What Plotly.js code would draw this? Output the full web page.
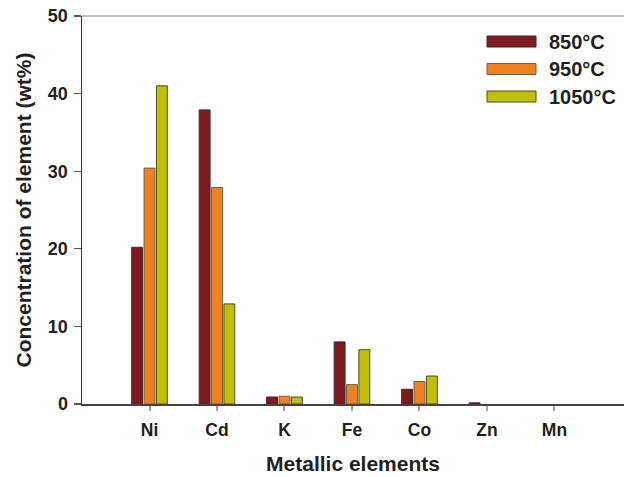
<!DOCTYPE html>
<html>
<head>
<meta charset="utf-8">
<script src="https://cdn.plot.ly/plotly-3.0.1.min.js"></script>
<style>html,body{margin:0;padding:0;background:#fff;}#chart{width:624px;height:477px;}</style>
</head>
<body>
<div id="chart"></div>
<script>
const categories = ["Ni", "Cd", "K", "Fe", "Co", "Zn", "Mn"];
const seriesNames = ["850°C", "950°C", "1050°C"];
const values850 = [20.2, 37.9, 0.9, 8.0, 1.9, 0.15, 0];
const values950 = [30.4, 27.9, 1.0, 2.5, 2.9, 0, 0];
const values1050 = [41.0, 12.9, 0.9, 7.0, 3.6, 0, 0];
const yTicks = [0, 10, 20, 30, 40, 50];

const fillColors = ["#7C1A1F", "#F0821E", "#C0C000"];
const lineColors = ["#3F2A2A", "#6E6158", "#4E4B2A"];
const FONT = "Liberation Sans, Arial, sans-serif";
const TXT = "#231F20";

const allValues = [values850, values950, values1050];
const traces = allValues.map((v, i) => ({
  type: "bar",
  x: categories,
  y: v,
  name: seriesNames[i],
  marker: {color: fillColors[i],
    line: {color: lineColors[i], width: v.map(d => d === 0 ? 0 : 1)}},
  hoverinfo: "x+y+name"
}));

// layout in pixels
const W = 624, H = 477, L = 82, R = 0, T = 16, B = 73;
const pw = W - L - R, ph = H - T - B;
const px = x => (x - L) / pw;
const py = y => 1 - (y - T) / ph;

const shapes = [
  {type: "line", xref: "paper", yref: "paper", x0: 0, x1: 1, y0: 1, y1: 1,
   line: {color: "#8A8A8A", width: 1.2}}
];
const annotations = [];
const legendRows = [41.5, 69, 96.5];
seriesNames.forEach((n, i) => {
  const yc = legendRows[i];
  shapes.push({type: "rect", xref: "paper", yref: "paper",
    x0: px(487), x1: px(536), y0: py(yc - 5.5), y1: py(yc + 5.5),
    fillcolor: fillColors[i], line: {color: lineColors[i], width: 1}});
  annotations.push({xref: "paper", yref: "paper", x: px(547), y: py(yc),
    xanchor: "left", yanchor: "middle", showarrow: false, text: n,
    font: {family: FONT, size: 20, color: TXT, weight: "bold"}});
});

const layout = {
  width: W, height: H,
  margin: {l: L, r: R, t: T, b: B, pad: 0},
  paper_bgcolor: "#fff", plot_bgcolor: "#fff",
  showlegend: false,
  barmode: "group",
  bargap: 0.45,
  bargroupgap: 0.12,
  font: {family: FONT, color: TXT},
  xaxis: {
    type: "category",
    range: [-1.0, 7.03],
    showgrid: false, zeroline: false,
    showline: true, linecolor: "#4A4242", linewidth: 1.5,
    ticks: "outside", ticklen: 5, tickwidth: 2, tickcolor: "#A0A0A0",
    ticklabelstandoff: 4,
    tickfont: {family: FONT, size: 17.5, color: TXT, weight: "bold"},
    title: {text: "Metallic elements", standoff: 18,
      font: {family: FONT, size: 21, color: TXT, weight: "bold"}}
  },
  yaxis: {
    range: [0, 50],
    tickvals: yTicks,
    showgrid: false, zeroline: false,
    showline: true, linecolor: "#3A3333", linewidth: 1.5,
    ticks: "outside", ticklen: 7, tickwidth: 1.2, tickcolor: "#555",
    ticklabelstandoff: 2,
    tickfont: {family: FONT, size: 18, color: TXT, weight: "bold"},
    title: {text: "Concentration of element (wt%)", standoff: 10,
      font: {family: FONT, size: 21, color: TXT, weight: "bold"}}
  },
  shapes: shapes,
  annotations: annotations
};

Plotly.newPlot("chart", traces, layout, {displayModeBar: false, staticPlot: true});
</script>
</body>
</html>
